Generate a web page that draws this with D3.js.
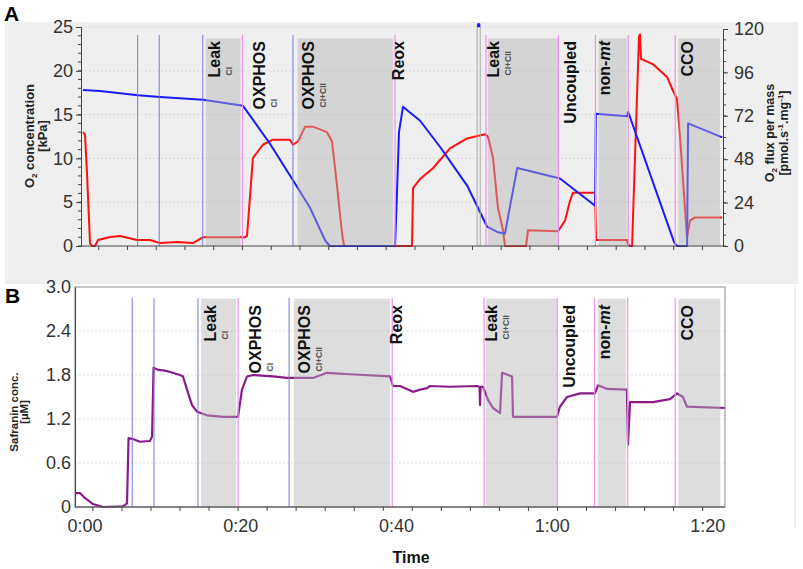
<!DOCTYPE html>
<html>
<head>
<meta charset="utf-8">
<script src="https://cdn.jsdelivr.net/npm/d3@7"></script>
<style>
  body { margin: 0; background: #fff; }
  svg { font-family: "Liberation Sans", Arial, sans-serif; }
</style>
</head>
<body>
<svg id="chart" width="803" height="569"></svg>
<script>
// ---- data (time in minutes) ----
// panel A: O2 concentration [kPa], left axis
const o2Conc = [
  [-1.04,17.8],[1.17,17.7],[6.1,17.2],[8.95,17.0],[14.53,16.7],[19.72,16.0],[23.2,11.7],
  [26.2,7.5],[28.4,4.4],[30.4,0.6],[31.0,0],[39.45,0],[39.7,6],[39.96,13],[40.48,15.9],
  [42.7,14.3],[45.3,11.3],[48.8,6.9],[51.4,2.2],[52.7,1.6],[53.7,1.4],[55.3,8.9],
  [60.85,7.7],[65.4,4.6],[65.5,15.1],[69.55,14.8],[69.68,15.3],[69.94,14.7],[75.65,0.45],
  [76.04,0],[77.34,0],[77.47,14.0],[81.9,12.4]
];
// panel A: O2 flux per mass [pmol/(s*mg)], right axis
const o2Flux = [
  [-1.04,63],[-0.78,61.6],[-0.52,40],[-0.13,1.6],[0.13,0],[0.52,0],[0.91,3.3],[2.47,5],
  [3.76,5.5],[5.97,3.3],[7.66,3.3],[8.95,1.6],[11.16,2.2],[13.23,1.6],[14.53,4.9],
  [16.74,4.9],[19.98,4.9],[20.24,5.5],[21.0,48.6],[22.3,56],[23.6,58.8],[25.8,58.8],
  [26.2,56],[26.86,57.8],[27.77,66],[28.8,66],[30.6,63],[31.27,57.8],[31.9,34],[32.57,7],
  [32.83,0],[41.65,0],[41.78,32],[42.69,37],[44.37,43],[46.58,54],[48.79,59.5],
  [51.12,61.8],[51.51,60.5],[52.16,48.6],[52.8,21],[53.46,8.7],[53.72,0],[56.44,0],
  [56.7,8.7],[60.6,8.2],[61.5,14],[62.15,25],[62.54,29.5],[65.4,29.5],[65.53,3.3],
  [69.55,3.3],[69.68,1],[69.94,0],[70.2,0],[71.1,116],[71.23,117],[71.36,103.5],
  [72.92,100.5],[74.74,93.5],[75.5,86],[76.04,81],[76.43,60],[76.82,36],[77.2,12.5],
  [77.33,5],[77.72,14],[78.37,15.8],[81.87,15.8]
];
// O2 concentration point above the scale during chamber opening
const o2OffScale = [[50.3, 25.2]];
// panel B: safranin concentration [µM]
const safranin = [
  [-1.17,0.19],[-0.66,0.19],[0,0.12],[1.01,0.04],[2.3,0],[4.87,0.01],[5.38,0.05],
  [5.58,0.94],[6.03,0.93],[7.05,0.89],[8.32,0.9],[8.6,0.96],[8.79,1.9],[9.37,1.87],
  [10.26,1.86],[10.9,1.84],[12.19,1.8],[12.58,1.78],[13.09,1.6],[13.73,1.39],[14.38,1.3],
  [15.66,1.25],[17.72,1.23],[19.64,1.23],[20.15,1.6],[20.8,1.78],[21.57,1.8],[24.14,1.78],
  [25.94,1.76],[29.28,1.76],[31.07,1.83],[34.02,1.81],[39.17,1.78],[39.55,1.65],
  [40.45,1.65],[42.12,1.57],[43.02,1.6],[43.92,1.62],[44.3,1.65],[46.88,1.64],[50.35,1.65],
  [50.67,1.64],[50.73,1.39],[50.8,1.64],[51.12,1.64],[51.76,1.46],[52.4,1.35],[53.3,1.28],
  [53.56,1.83],[54.85,1.78],[54.97,1.23],[55.87,1.23],[60.62,1.23],[61.0,1.37],[61.9,1.5],
  [63.6,1.55],[65.5,1.55],[65.9,1.66],[67.05,1.61],[69.6,1.6],[69.74,0.85],[70.0,1.43],
  [72.96,1.43],[75.14,1.47],[76.04,1.55],[76.8,1.5],[77.3,1.37],[82.2,1.35]
];

// protocol events
const titrationTimes = [6.05, 8.85, 14.5, 26.2];                       // blue marks
const stateTimes = [19.65, 39.45, 51.25, 60.65, 65.45, 69.7, 75.8];    // pink marks
const openTimes = [50.1, 50.5];                                         // chamber opening (A)
const bandStart = [14.9, 26.8, 51.5, 65.85, 76.2];
const bandEnd   = [19.4, 39.2, 60.6, 69.5, 81.6];
const labelTimes = [16.8, 22.6, 28.9, 40.65, 52.9, 62.9, 67.4, 78.1];
const labelMain  = ["Leak", "OXPHOS", "OXPHOS", "Reox", "Leak", "Uncoupled", "non-|mt", "CCO"];
const labelSub   = ["CI", "CI", "CI+CII", "", "CI+CII", "", "", ""];

// ticks
const concTicks = [0, 5, 10, 15, 20, 25];
const fluxTicks = [0, 24, 48, 72, 96, 120];
const safTicks  = [0, 0.6, 1.2, 1.8, 2.4, 3.0];
const timeLabels = [0, 20, 40, 60, 80];
const timeMinor = d3.range(1.0, 80, 3.73);

// ---- drawing ----
const svg = d3.select("#chart");
const FONT = "'Liberation Sans', Arial, sans-serif";

// scales
const xA = d3.scaleLinear().domain([-1.3, 82]).range([81, 723]);
const yConc = d3.scaleLinear().domain([0, 25]).range([246, 27]);
const yFlux = d3.scaleLinear().domain([0, 120]).range([246, 29]);
const xB = d3.scaleLinear().domain([-1.3, 82.2]).range([75, 725]);
const ySaf = d3.scaleLinear().domain([0, 3]).range([507, 287]);

const fmtTime = m => `${Math.floor(m / 60)}:${String(m % 60).padStart(2, "0")}`;

// panel A background
svg.append("rect").attr("x", 5).attr("y", 22).attr("width", 793).attr("height", 262).attr("fill", "#efefef");
// faint right border of panel B area
svg.append("line").attr("x1", 795).attr("x2", 795).attr("y1", 285).attr("y2", 528)
  .attr("stroke", "#e4e4e4");

function grid(g, x0, x1, scale, ticks, color) {
  g.selectAll("line.grid").data(ticks.slice(1)).join("line")
    .attr("class", "grid")
    .attr("x1", x0).attr("x2", x1)
    .attr("y1", d => scale(d)).attr("y2", d => scale(d))
    .attr("stroke", color).attr("stroke-dasharray", "1.5 2.5");
}

function bands(g, x, y, top) {
  g.selectAll("rect.band").data(bandStart).join("rect")
    .attr("class", "band")
    .attr("x", d => x(d))
    .attr("width", (d, i) => x(bandEnd[i]) - x(d))
    .attr("y", y(top)).attr("height", y(0) - y(top))
    .attr("fill", "#b4b4b4").attr("opacity", 0.45);
}

function marks(g, x, y, top) {
  g.selectAll("line.tit").data(titrationTimes).join("line")
    .attr("class", "tit")
    .attr("x1", d => x(d)).attr("x2", d => x(d))
    .attr("y1", y(top)).attr("y2", y(0))
    .attr("stroke", "#7878e0").attr("stroke-width", 1);
  g.selectAll("line.state").data(stateTimes).join("line")
    .attr("class", "state")
    .attr("x1", d => x(d)).attr("x2", d => x(d))
    .attr("y1", y(top)).attr("y2", y(0))
    .attr("stroke", "#ee90ee").attr("stroke-width", 1.2);
}

function labels(g, x, yTop) {
  labelTimes.forEach((t, i) => {
    const grp = g.append("g").attr("transform", `translate(${x(t)},${yTop}) rotate(-90)`);
    const main = grp.append("text")
      .attr("text-anchor", "end")
      .attr("font-size", 16).attr("font-weight", "bold").attr("fill", "#111");
    labelMain[i].split("|").forEach((part, k) => {
      main.append("tspan").attr("font-style", k === 1 ? "italic" : null).text(part);
    });
    if (labelSub[i]) {
      const len = main.node().getComputedTextLength();
      grp.append("text")
        .attr("x", -len + 2).attr("y", 12)
        .attr("font-size", 8.5).attr("font-weight", "bold").attr("fill", "#555")
        .text(labelSub[i]);
    }
  });
}

function timeTicks(g, x, y0) {
  g.selectAll("line.tt").data(timeMinor).join("line")
    .attr("class", "tt")
    .attr("x1", d => x(d)).attr("x2", d => x(d))
    .attr("y1", y0).attr("y2", y0 + 4)
    .attr("stroke", "#444");
}

// ---------- panel A ----------
const gA = svg.append("g");
grid(gA, 81, 723, yConc, concTicks, "#d2d2d2");

const lineConc = d3.line().x(d => xA(d[0])).y(d => yConc(d[1]));
const lineFlux = d3.line().x(d => xA(d[0])).y(d => yFlux(d[1]));

gA.append("path").datum(o2Flux).attr("d", lineFlux)
  .attr("fill", "none").attr("stroke", "#ff1010").attr("stroke-width", 2).attr("stroke-linejoin", "round");
gA.append("path").datum(o2Conc).attr("d", lineConc)
  .attr("fill", "none").attr("stroke", "#1a1aff").attr("stroke-width", 2).attr("stroke-linejoin", "round");

bands(gA, xA, yConc, 23.7);
marks(gA, xA, yConc, 24.1);

gA.selectAll("line.open").data(openTimes).join("line")
  .attr("class", "open")
  .attr("x1", d => xA(d)).attr("x2", d => xA(d))
  .attr("y1", yConc(25.3)).attr("y2", yConc(0))
  .attr("stroke", "#a8a8a8").attr("stroke-width", 1);
gA.selectAll("rect.off").data(o2OffScale).join("rect")
  .attr("class", "off")
  .attr("x", d => xA(d[0]) - 1.5).attr("y", d => yConc(d[1]) - 2)
  .attr("width", 3).attr("height", 4).attr("fill", "#1a1aff");

// axes A
const axL = gA.append("g").attr("transform", "translate(81,0)")
  .call(d3.axisLeft(yConc).tickValues(concTicks).tickSize(5).tickPadding(3));
axL.append("g").selectAll("line").data(d3.range(0, 25, 1)).join("line")
  .attr("x1", -3).attr("x2", 0).attr("y1", d => yConc(d)).attr("y2", d => yConc(d)).attr("stroke", "#444");
const axR = gA.append("g").attr("transform", "translate(723,0)")
  .call(d3.axisRight(yFlux).tickValues(fluxTicks).tickSize(5).tickPadding(6));
axR.append("g").selectAll("line").data(d3.range(0, 120, 6)).join("line")
  .attr("x1", 0).attr("x2", 3).attr("y1", d => yFlux(d)).attr("y2", d => yFlux(d)).attr("stroke", "#444");
gA.append("line").attr("x1", 81).attr("x2", 723).attr("y1", 246).attr("y2", 246).attr("stroke", "#444");
timeTicks(gA, xA, 246);

[axL, axR].forEach(a => {
  a.selectAll(".domain").attr("stroke", "#444");
  a.selectAll(".tick line").attr("stroke", "#444");
  a.selectAll("text").attr("font-size", 18).attr("fill", "#333").attr("font-family", FONT);
});

labels(gA, xA, 41);

// axis titles A
const tL = svg.append("text").attr("transform", "translate(34,136) rotate(-90)")
  .attr("text-anchor", "middle").attr("font-size", 13).attr("font-weight", "bold").attr("fill", "#222");
tL.append("tspan").text("O");
tL.append("tspan").attr("font-size", 8).attr("dy", 3).text("2");
tL.append("tspan").attr("dy", -3).text(" concentration");
svg.append("text").attr("transform", "translate(47,136) rotate(-90)")
  .attr("text-anchor", "middle").attr("font-size", 13).attr("font-weight", "bold").attr("fill", "#222")
  .text("[kPa]");

const tR = svg.append("text").attr("transform", "translate(774,133) rotate(-90)")
  .attr("text-anchor", "middle").attr("font-size", 12.5).attr("font-weight", "bold").attr("fill", "#222");
tR.append("tspan").text("O");
tR.append("tspan").attr("font-size", 8).attr("dy", 3).text("2");
tR.append("tspan").attr("dy", -3).text(" flux per mass");
const tR2 = svg.append("text").attr("transform", "translate(788,133) rotate(-90)")
  .attr("text-anchor", "middle").attr("font-size", 12.5).attr("font-weight", "bold").attr("fill", "#222");
tR2.append("tspan").text("[pmol.s");
tR2.append("tspan").attr("font-size", 8).attr("dy", -5).text("-1");
tR2.append("tspan").attr("dy", 5).text(".mg");
tR2.append("tspan").attr("font-size", 8).attr("dy", -5).text("-1");
tR2.append("tspan").attr("dy", 5).text("]");

svg.append("text").attr("x", 4).attr("y", 21).attr("font-size", 21).attr("font-weight", "bold").text("A");

// ---------- panel B ----------
const gB = svg.append("g");
grid(gB, 75, 725, ySaf, safTicks.slice(0, -1), "#d8d8d8");

const lineSaf = d3.line().x(d => xB(d[0])).y(d => ySaf(d[1]));
gB.append("path").datum(safranin).attr("d", lineSaf)
  .attr("fill", "none").attr("stroke", "#8a1c8a").attr("stroke-width", 2.2).attr("stroke-linejoin", "round");

bands(gB, xB, ySaf, 2.84);
marks(gB, xB, ySaf, 2.85);

// frame
gB.append("rect").attr("x", 75).attr("y", 287).attr("width", 650).attr("height", 220)
  .attr("fill", "none").attr("stroke", "#8a8a8a");

const axB = gB.append("g").attr("transform", "translate(75,0)")
  .call(d3.axisLeft(ySaf).tickValues(safTicks).tickFormat(d => d === 0 ? "0" : d3.format(".1f")(d)).tickSize(0).tickPadding(4));
axB.selectAll(".domain").attr("stroke", "#444");
axB.selectAll("text").attr("font-size", 18).attr("fill", "#333").attr("font-family", FONT);
gB.append("line").attr("x1", 75).attr("x2", 725).attr("y1", 507).attr("y2", 507).attr("stroke", "#444");
timeTicks(gB, xB, 507);

gB.selectAll("text.tl").data(timeLabels).join("text")
  .attr("class", "tl")
  .attr("x", d => xB(d)).attr("y", 532)
  .attr("text-anchor", "middle").attr("font-size", 18).attr("fill", "#333")
  .text(fmtTime);

labels(gB, xB, 305);

svg.append("text").attr("transform", "translate(18,412) rotate(-90)")
  .attr("text-anchor", "middle").attr("font-size", 11.5).attr("font-weight", "bold").attr("fill", "#222")
  .text("Safranin conc.");
svg.append("text").attr("transform", "translate(28,412) rotate(-90)")
  .attr("text-anchor", "middle").attr("font-size", 11.5).attr("font-weight", "bold").attr("fill", "#222")
  .text("[µM]");

svg.append("text").attr("x", 411).attr("y", 563).attr("text-anchor", "middle")
  .attr("font-size", 16).attr("font-weight", "bold").attr("fill", "#111").text("Time");

svg.append("text").attr("x", 5).attr("y", 303).attr("font-size", 21).attr("font-weight", "bold").text("B");
</script>
</body>
</html>
